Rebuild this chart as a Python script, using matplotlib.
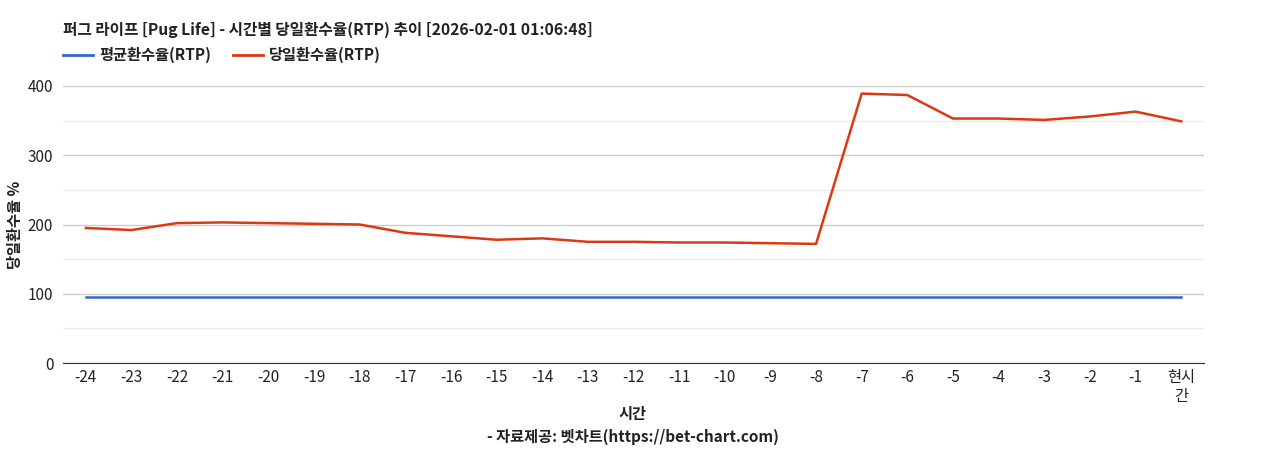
import matplotlib
matplotlib.use("Agg")
import matplotlib.pyplot as plt
from matplotlib.lines import Line2D

plt.rcParams['font.family'] = ['Noto Sans CJK KR', 'DejaVu Sans']

categories = ['-24', '-23', '-22', '-21', '-20', '-19', '-18', '-17', '-16', '-15', '-14', '-13',
              '-12', '-11', '-10', '-9', '-8', '-7', '-6', '-5', '-4', '-3', '-2', '-1', '현시\n간']
avg_rtp = [96] * 25
day_rtp = [195, 192, 202, 203, 202, 201, 200, 188, 183, 178, 180, 175,
           175, 174, 174, 173, 172, 389, 387, 353, 353, 351, 356, 363, 349]

title = '퍼그 라이프 [Pug Life] - 시간별 당일환수율(RTP) 추이 [2026-02-01 01:06:48]'
series_names = ['평균환수율(RTP)', '당일환수율(RTP)']
colors = ['#3366CC', '#DC3912']

W, H = 1268, 450
fig = plt.figure(figsize=(W / 100, H / 100), dpi=100)
ax = fig.add_axes([63 / W, 1 - 363 / H, (1204 - 63) / W, (363 - 86) / H])

x = list(range(len(categories)))
ax.plot(x, avg_rtp, color=colors[0], lw=1.8, solid_joinstyle='round')
ax.plot(x, day_rtp, color=colors[1], lw=1.8, solid_joinstyle='round')

ax.set_xlim(-0.5, len(categories) - 0.5)
ax.set_ylim(0, 400)
ax.set_yticks([0, 100, 200, 300, 400])
ax.set_yticks([50, 150, 250, 350], minor=True)
ax.grid(axis='y', which='major', color='#cccccc', lw=1)
ax.grid(axis='y', which='minor', color='#ebebeb', lw=1)
ax.set_axisbelow(True)
for s in ['top', 'right', 'left']:
    ax.spines[s].set_visible(False)
ax.spines['bottom'].set_color('#333333')
ax.spines['bottom'].set_zorder(5)
ax.set_xticks(x)
ax.set_xticklabels(categories, fontsize=11, color='#222222', linespacing=1.15)
ax.tick_params(axis='x', length=0, pad=4)
ax.tick_params(axis='y', which='both', length=0, pad=7, labelsize=11, labelcolor='#222222')

fig.text(633 / W, 1 - 414 / H, '시간', fontsize=11, fontweight='bold', color='#222222',
         ha='center', va='center')
fig.text(15 / W, 1 - 225 / H, '당일환수율 %', rotation=90, fontsize=11, fontweight='bold',
         color='#222222', ha='center', va='center')
fig.text(633 / W, 1 - 437 / H, '- 자료제공: 벳차트(https://bet-chart.com)', fontsize=11,
         fontweight='bold', color='#222222', ha='center', va='center')

fig.text(63 / W, 1 - 30 / H, title, fontsize=11.3, fontweight='bold', color='#222222',
         ha='left', va='center')

# legend
for name, c, tx in zip(series_names, colors, [63, 233]):
    fig.add_artist(Line2D([tx / W, (tx + 30) / W], [1 - 55 / H, 1 - 55 / H], color=c, lw=2,
                          transform=fig.transFigure))
    fig.text((tx + 36) / W, 1 - 55 / H, name, fontsize=11, fontweight='bold', color='#222222',
             ha='left', va='center')

fig.savefig('out.png', dpi=100, facecolor='white')
